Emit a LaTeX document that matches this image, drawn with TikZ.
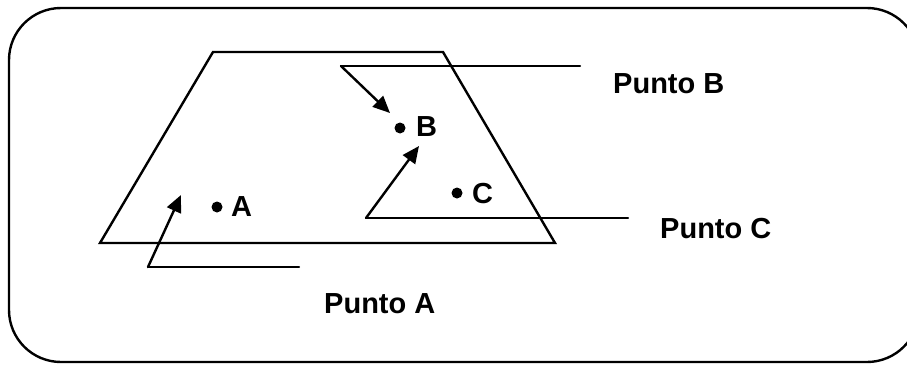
\documentclass[tikz,border=0pt]{standalone}
\usepackage{fontspec}
\setmainfont{Liberation Sans}
\usetikzlibrary{arrows.meta}
\begin{document}
\begin{tikzpicture}[x=1pt,y=-1pt,
  ln/.style={line width=2.4pt,line cap=round,line join=miter},
  arr/.style={ln,-{Triangle[length=17pt,width=15pt]},shorten >=0pt},
  dotnode/.style={circle,fill=black,inner sep=0pt,minimum size=11pt},
  lbl/.style={font=\fontsize{29}{33}\selectfont\bfseries,inner sep=0pt,anchor=base west}]
\useasboundingbox (0,0) rectangle (907,364);
% outer rounded frame
\draw[ln,rounded corners=52pt] (9,8) rectangle (919,362);
% trapezoid
\draw[ln,line join=miter] (213,52) -- (443,52) -- (555,243) -- (100,243) -- cycle;
% dots and letters
\node[dotnode] (dA) at (217,207) {};
\node[dotnode] (dB) at (400,128) {};
\node[dotnode] (dC) at (457,193) {};
\node[lbl] (lA) at (231,216) {A};
\node[lbl] (lB) at (416,136) {B};
\node[lbl] (lC) at (472,203) {C};
% callout labels
\node[lbl] (pA) at (324,313) {Punto A};
\node[lbl] (pB) at (613,93) {Punto B};
\node[lbl] (pC) at (660,238) {Punto C};
% callout lines
\coordinate (a0) at (148,267); \coordinate (a1) at (299,267); \coordinate (a2) at (181,195);
\coordinate (b0) at (341,66);  \coordinate (b1) at (580,66);  \coordinate (b2) at (390,113);
\coordinate (c0) at (366,218); \coordinate (c1) at (628,218); \coordinate (c2) at (419,146);
\draw[ln] (a1) -- (a0);
\draw[arr] (a0) -- (a2);
\draw[ln] (b1) -- (b0);
\draw[arr] (b0) -- (b2);
\draw[ln] (c1) -- (c0);
\draw[arr] (c0) -- (c2);
\end{tikzpicture}
\end{document}
